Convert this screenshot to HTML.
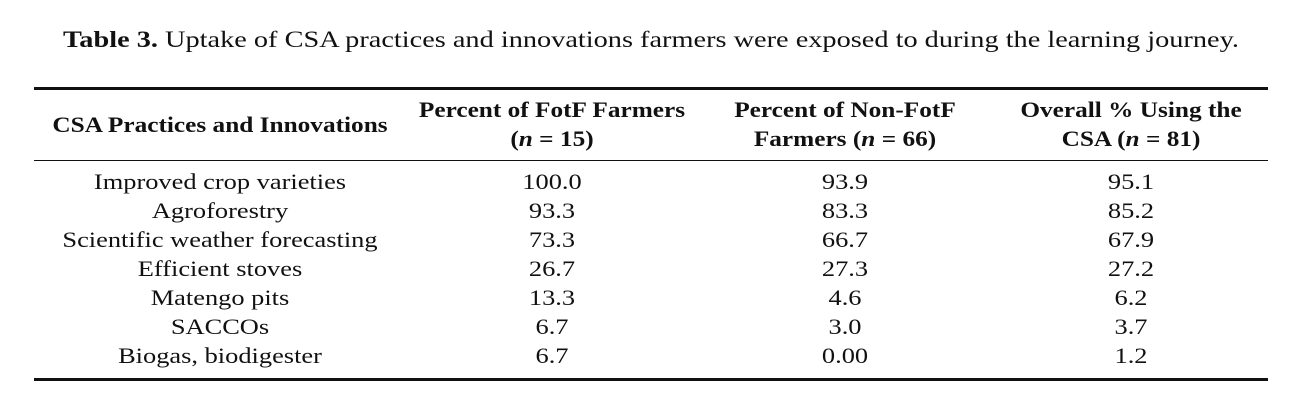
<!DOCTYPE html>
<html><head><meta charset="utf-8"><style>
body{margin:0;width:1291px;height:409px;background:#fff;position:relative;overflow:hidden;font-family:"Liberation Serif",serif;color:#111;}
.t{position:absolute;white-space:nowrap;font-size:22px;line-height:28px;transform:translateX(-50%) scaleX(1.2);}
.b{font-weight:bold;transform:translateX(-50%) scaleX(1.15);}
.r{position:absolute;left:34px;width:1234px;background:#111;}
</style></head><body>
<div class="t" style="left:651px;top:26px;font-size:23.5px;transform:translateX(-50%) scaleX(1.205);"><b>Table 3.</b> Uptake of CSA practices and innovations farmers were exposed to during the learning journey.</div>
<div class="r" style="top:87px;height:2.5px"></div>
<div class="r" style="top:160px;height:1.2px"></div>
<div class="r" style="top:378px;height:2.5px"></div>

<div class="t b" style="left:220px;top:111px">CSA Practices and Innovations</div>
<div class="t b" style="left:552px;top:96px">Percent of FotF Farmers</div>
<div class="t b" style="left:552px;top:125px">(<i>n</i> = 15)</div>
<div class="t b" style="left:845px;top:96px">Percent of Non-FotF</div>
<div class="t b" style="left:845px;top:125px">Farmers (<i>n</i> = 66)</div>
<div class="t b" style="left:1131px;top:96px">Overall % Using the</div>
<div class="t b" style="left:1131px;top:125px">CSA (<i>n</i> = 81)</div>

<div class="t" style="left:220px;top:168px">Improved crop varieties</div>
<div class="t" style="left:552px;top:168px">100.0</div>
<div class="t" style="left:845px;top:168px">93.9</div>
<div class="t" style="left:1131px;top:168px">95.1</div>

<div class="t" style="left:220px;top:197px">Agroforestry</div>
<div class="t" style="left:552px;top:197px">93.3</div>
<div class="t" style="left:845px;top:197px">83.3</div>
<div class="t" style="left:1131px;top:197px">85.2</div>

<div class="t" style="left:220px;top:226px">Scientific weather forecasting</div>
<div class="t" style="left:552px;top:226px">73.3</div>
<div class="t" style="left:845px;top:226px">66.7</div>
<div class="t" style="left:1131px;top:226px">67.9</div>

<div class="t" style="left:220px;top:255px">Efficient stoves</div>
<div class="t" style="left:552px;top:255px">26.7</div>
<div class="t" style="left:845px;top:255px">27.3</div>
<div class="t" style="left:1131px;top:255px">27.2</div>

<div class="t" style="left:220px;top:284px">Matengo pits</div>
<div class="t" style="left:552px;top:284px">13.3</div>
<div class="t" style="left:845px;top:284px">4.6</div>
<div class="t" style="left:1131px;top:284px">6.2</div>

<div class="t" style="left:220px;top:313px">SACCOs</div>
<div class="t" style="left:552px;top:313px">6.7</div>
<div class="t" style="left:845px;top:313px">3.0</div>
<div class="t" style="left:1131px;top:313px">3.7</div>

<div class="t" style="left:220px;top:342px">Biogas, biodigester</div>
<div class="t" style="left:552px;top:342px">6.7</div>
<div class="t" style="left:845px;top:342px">0.00</div>
<div class="t" style="left:1131px;top:342px">1.2</div>
</body></html>
